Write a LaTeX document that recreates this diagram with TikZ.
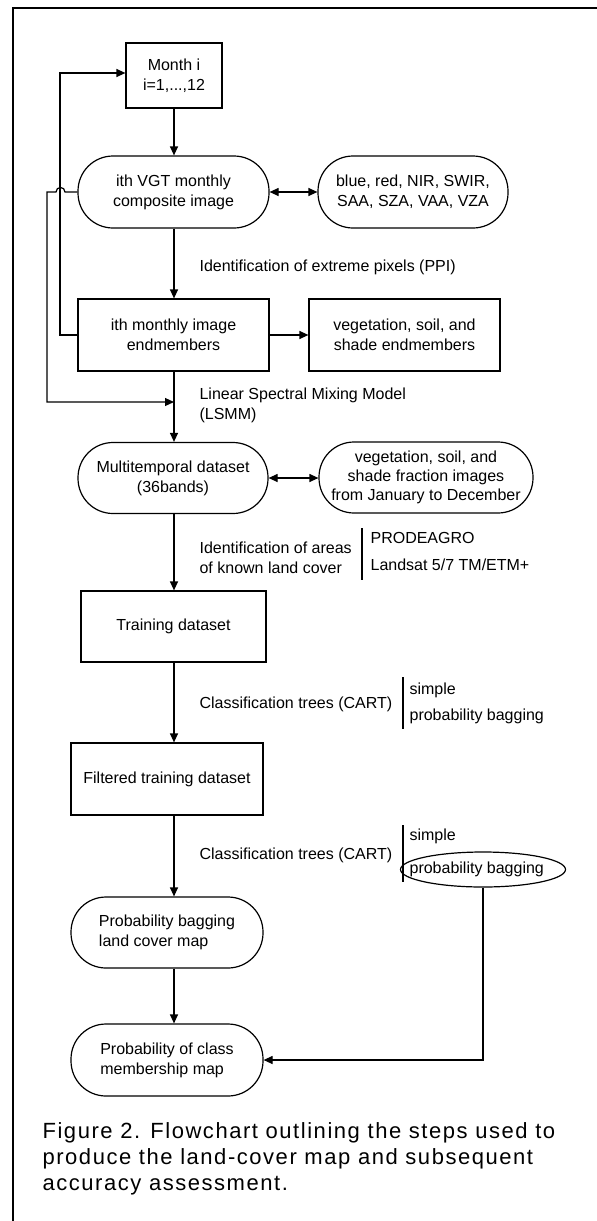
\documentclass[tikz,border=0pt]{standalone}
\usepackage{fontspec}
\setmainfont{Liberation Sans}
\newfontfamily\capfont[LetterSpace=7]{Liberation Sans}
\usetikzlibrary{arrows.meta,shapes.geometric}
\begin{document}
\begin{tikzpicture}[x=1pt,y=-1pt, line width=1.2pt,
  font=\fontsize{16}{20}\selectfont,
  arr/.style={-{Triangle[length=9pt,width=8pt]}},
  darr/.style={{Triangle[length=9pt,width=8pt]}-{Triangle[length=9pt,width=8pt]}},
  sqbox/.style={draw, align=center, inner sep=0pt},
  pill/.style={draw, align=center, inner sep=0pt, rounded corners=35pt},
  lbl/.style={anchor=west, align=left, inner sep=0pt},
  capline/.style={anchor=base west, inner sep=0pt, font=\capfont\fontsize{22}{26}\selectfont}]
\useasboundingbox (0,0) rectangle (597,1221);
\fill[white] (0,0) rectangle (597,1221);
\draw (13,1221) -- (13,8) -- (597,8);

\coordinate (col) at (174,0);

% main nodes
\node[sqbox, minimum width=96pt, minimum height=65pt] (month) at (174,75.5) {Month i\\i=1,...,12};
\node[pill, minimum width=191pt, minimum height=72pt] (vgt) at (173.5,192) {ith VGT monthly\\composite image};
\node[pill, minimum width=190pt, minimum height=72pt] (bands) at (413,192) {blue, red, NIR, SWIR,\\SAA, SZA, VAA, VZA};
\node[sqbox, minimum width=191pt, minimum height=72pt] (endm) at (173.5,335) {ith monthly image\\endmembers};
\node[sqbox, minimum width=191pt, minimum height=72pt] (vegend) at (404.5,335) {vegetation, soil, and\\shade endmembers};
\node[pill, minimum width=190pt, minimum height=71pt] (multi) at (173,478) {Multitemporal dataset\\(36bands)};
\node[pill, minimum width=214pt, minimum height=71pt, font=\fontsize{16}{19}\selectfont] (frac) at (426,477.5) {vegetation, soil, and\\shade fraction images\\from January to December};
\node[sqbox, minimum width=185pt, minimum height=71pt] (training) at (173.5,626.5) {Training dataset};
\node[sqbox, minimum width=192pt, minimum height=72pt] (filtered) at (167,779) {Filtered training dataset};
\node[pill, minimum width=192pt, minimum height=71pt, align=left] (probmap) at (167,932.5) {Probability bagging\\land cover map};
\node[pill, minimum width=192pt, minimum height=72pt, align=left] (probclass) at (167,1060) {Probability of class\\membership map};

% labels
\node[lbl] (ppi) at (199,267) {Identification of extreme pixels (PPI)};
\node[lbl] (lsmm) at (199,405) {Linear Spectral Mixing Model\\(LSMM)};
\node[lbl] (areas) at (199,558) {Identification of areas\\of known land cover};
\node[lbl] (prod) at (370,538) {PRODEAGRO};
\node[lbl] (lands) at (370,565) {Landsat 5/7 TM/ETM+};
\node[lbl] (cart1) at (199,704) {Classification trees (CART)};
\node[lbl] (simp1) at (409,690) {simple};
\node[lbl] (pb1) at (409,716) {probability bagging};
\node[lbl] (cart2) at (199,855) {Classification trees (CART)};
\node[lbl] (simp2) at (409,836) {simple};
\node[draw, ellipse, minimum width=165pt, minimum height=35pt, inner sep=0pt] (pbell) at (483,869.5) {};
\node[lbl] (pb2) at (409,869) {probability bagging};

% bars
\draw (362,528) -- (362,580);
\draw (403,677) -- (403,729);
\draw (403,825) -- (403,882);

% connectors
\draw[arr] (month.south -| col) -- (vgt.north -| col);
\draw[darr] (vgt.east) -- (bands.west);
\draw[arr] (vgt.south -| col) -- (endm.north -| col);
\draw[arr] (endm.east) -- (vegend.west);
\draw[arr] (endm.south -| col) -- (multi.north -| col);
\draw[darr] (multi.east) -- (multi.east -| frac.west);
\draw[arr] (multi.south -| col) -- (training.north -| col);
\draw[arr] (training.south -| col) -- (filtered.north -| col);
\draw[arr] (filtered.south -| col) -- (probmap.north -| col);
\draw[arr] (probmap.south -| col) -- (probclass.north -| col);
\draw[arr] (pbell.south) -- (pbell.south |- probclass.east) -- (probclass.east);

% feedback loops
\draw[arr] (endm.west) -- (60,335) -- (60,73) -- ([yshift=2.5pt]month.west);
\coordinate (lsmmjoin) at (174,402);
\draw[arr] (vgt.west) -- (65,192) .. controls (65,186) and (56,186) .. (56,192) -- (47,192) -- (47,402) -- (lsmmjoin);

% caption
\node[capline] (cap1) at (42,1138) {Figure 2. Flowchart outlining the steps used to};
\node[capline] (cap2) at (42,1164) {produce the land-cover map and subsequent};
\node[capline] (cap3) at (42,1190) {accuracy assessment.};
\end{tikzpicture}
\end{document}
